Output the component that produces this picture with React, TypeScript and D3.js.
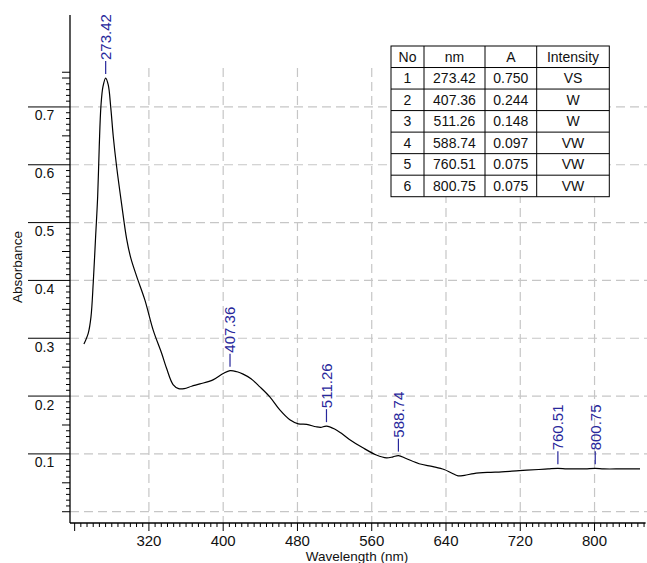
import React from 'react';
import * as d3 from 'd3';

// Absorption spectrum (wavelength in nm, absorbance)
const wavelengths = [
  250, 254.7, 257.6, 260, 262.6, 264.8, 266.5, 268.3, 270.5, 273.42, 276.2, 278.8,
  281.6, 285.2, 290.6, 296, 300.6, 306.8, 315.7, 324.6, 333.7, 339, 346, 352, 358,
  366, 375, 389, 400, 407.36, 415, 421.5, 430, 439.5, 450, 461, 471.8, 481, 490,
  500, 505, 511.26, 520, 527, 536, 550, 565, 576, 583, 588.74, 597, 611, 626, 638,
  646, 653, 660, 670, 685, 700, 719, 740, 750, 760.51, 770, 780, 790, 800.75, 810,
  830, 849,
];
const absorbance = [
  0.29, 0.309, 0.337, 0.395, 0.476, 0.545, 0.631, 0.701, 0.735, 0.75, 0.738, 0.701,
  0.649, 0.597, 0.532, 0.472, 0.438, 0.407, 0.366, 0.314, 0.274, 0.248, 0.22, 0.213,
  0.213, 0.217, 0.221, 0.228, 0.239, 0.244, 0.242, 0.238, 0.23, 0.216, 0.199, 0.176,
  0.159, 0.152, 0.151, 0.147, 0.146, 0.148, 0.143, 0.136, 0.125, 0.111, 0.098, 0.093,
  0.095, 0.097, 0.092, 0.083, 0.078, 0.073, 0.067, 0.062, 0.063, 0.066, 0.068, 0.069,
  0.071, 0.073, 0.074, 0.075, 0.074, 0.074, 0.074, 0.075, 0.074, 0.074, 0.074,
];

// Peak table
const tableHeaders = ['No', 'nm', 'A', 'Intensity'];
const peakNo = [1, 2, 3, 4, 5, 6];
const peakNm = [273.42, 407.36, 511.26, 588.74, 760.51, 800.75];
const peakA = [0.75, 0.244, 0.148, 0.097, 0.075, 0.075];
const peakIntensity = ['VS', 'W', 'W', 'VW', 'VW', 'VW'];

// Axes
const xTickLabels = [320, 400, 480, 560, 640, 720, 800];
const xMajorTicks = [240, 320, 400, 480, 560, 640, 720, 800];
const yTickLabels = [0.1, 0.2, 0.3, 0.4, 0.5, 0.6, 0.7];
const xTitle = 'Wavelength (nm)';
const yTitle = 'Absorbance';

const W = 647;
const H = 563;
const FONT = 'Liberation Sans, Arial, Helvetica, sans-serif';
const LABEL_BLUE = '#27279b';
const GRID = '#c6c6c6';

export default function App() {
  const x = d3.scaleLinear().domain([235, 855]).range([70, 645.6]);
  const y = d3.scaleLinear().domain([-0.0195, 0.859]).range([523, 15]);

  const pts: [number, number][] = wavelengths.map((w, i) => [w, absorbance[i]]);
  const line = d3
    .line<[number, number]>()
    .x((d) => x(d[0]))
    .y((d) => y(d[1]))
    .curve(d3.curveCatmullRom.alpha(0.5));

  const xMinor = d3.range(0, 93).map((i) => 240 + (i * 80) / 12).filter((v) => v <= 855);
  const yMinor = d3.range(0, 77).map((i) => i / 100);

  const axisX = x.range()[0];
  const axisY = y.range()[0];
  const gridTop = 68;

  // table geometry
  const tLeft = 391;
  const tTop = 46;
  const colW = [33, 61, 51.7, 72.6];
  const rowH = 21.53;
  const colX = colW.reduce<number[]>((acc, w) => [...acc, acc[acc.length - 1] + w], [tLeft]);
  const rows = peakNo.map((n, i) => [
    String(n),
    peakNm[i].toFixed(2),
    peakA[i].toFixed(3),
    peakIntensity[i],
  ]);
  const allRows = [tableHeaders, ...rows];
  const tW = colX[colX.length - 1] - tLeft;
  const tH = rowH * allRows.length;

  return (
    <svg
      width={W}
      height={H}
      style={{ position: 'absolute', left: 0, top: 0, background: '#fff' }}
      fontFamily={FONT}
    >
      <rect x={0} y={0} width={W} height={H} fill="#fff" />

      {/* grid */}
      <g stroke={GRID} strokeWidth={1.2} strokeDasharray="9,5">
        {[0, ...yTickLabels].map((v) => (
          <line key={'gy' + v} x1={axisX} x2={W} y1={y(v)} y2={y(v)} />
        ))}
        {xTickLabels.map((v) => (
          <line key={'gx' + v} x1={x(v)} x2={x(v)} y1={gridTop} y2={axisY} />
        ))}
      </g>

      {/* spectrum */}
      <path d={line(pts) || ''} fill="none" stroke="#000" strokeWidth={1.2} />

      {/* peak markers */}
      {peakNm.map((nm, i) => {
        const px = x(nm);
        const py = y(peakA[i]) - 4;
        return (
          <g key={'pk' + i}>
            <line x1={px} x2={px} y1={py} y2={py - 13} stroke={LABEL_BLUE} strokeWidth={1.2} />
            <text
              transform={`translate(${px},${py - 14}) rotate(-90)`}
              dy="0.36em"
              fontSize={15}
              fill={LABEL_BLUE}
            >
              {nm.toFixed(2)}
            </text>
          </g>
        );
      })}

      {/* axes */}
      <g stroke="#000" strokeWidth={1.3}>
        <line x1={axisX} x2={axisX} y1={15} y2={axisY} />
        <line x1={axisX} x2={645.6} y1={axisY} y2={axisY} />
      </g>
      <g stroke="#000" strokeWidth={1}>
        {yMinor.map((v) => {
          const isMajor = Math.abs(v * 10 - Math.round(v * 10)) < 1e-6 && v > 0.001;
          const isMid = Math.abs(v * 20 - Math.round(v * 20)) < 1e-6 || v > 0.755;
          const len = isMajor ? 42 : isMid ? 8 : 4;
          return <line key={'yt' + v} x1={axisX - len} x2={axisX} y1={y(v)} y2={y(v)} />;
        })}
        {xMinor.map((v, i) => {
          const isMajor = xMajorTicks.some((m) => Math.abs(m - v) < 1e-6);
          const len = isMajor ? 8 : 4;
          return <line key={'xt' + i} x1={x(v)} x2={x(v)} y1={axisY} y2={axisY + len} />;
        })}
      </g>

      {yTickLabels.map((v) => (
        <text key={'yl' + v} x={44.5} y={y(v) + 13.5} fontSize={14} textAnchor="middle" fill="#111">
          {v.toFixed(1)}
        </text>
      ))}
      {xTickLabels.map((v) => (
        <text key={'xl' + v} x={x(v)} y={545.5} fontSize={15} textAnchor="middle" fill="#111">
          {v}
        </text>
      ))}

      <text x={357} y={561} fontSize={13.5} textAnchor="middle" fill="#111">
        {xTitle}
      </text>
      <text transform="translate(22.3,267) rotate(-90)" fontSize={13.5} textAnchor="middle" fill="#111">
        {yTitle}
      </text>

      {/* peak table */}
      <g>
        <rect x={tLeft} y={tTop} width={tW} height={tH} fill="#fff" stroke="#000" strokeWidth={1} />
        {allRows.slice(1).map((_, r) => (
          <line
            key={'hr' + r}
            x1={tLeft}
            x2={tLeft + tW}
            y1={tTop + rowH * (r + 1)}
            y2={tTop + rowH * (r + 1)}
            stroke="#000"
            strokeWidth={1}
          />
        ))}
        {colX.slice(1, -1).map((cx, c) => (
          <line key={'vc' + c} x1={cx} x2={cx} y1={tTop} y2={tTop + tH} stroke="#000" strokeWidth={1} />
        ))}
        {allRows.map((row, r) =>
          row.map((cell, c) => (
            <text
              key={'c' + r + '-' + c}
              x={(colX[c] + colX[c + 1]) / 2}
              y={tTop + rowH * r + rowH / 2 + 5}
              fontSize={14}
              textAnchor="middle"
              fill="#111"
            >
              {cell}
            </text>
          ))
        )}
      </g>
    </svg>
  );
}
